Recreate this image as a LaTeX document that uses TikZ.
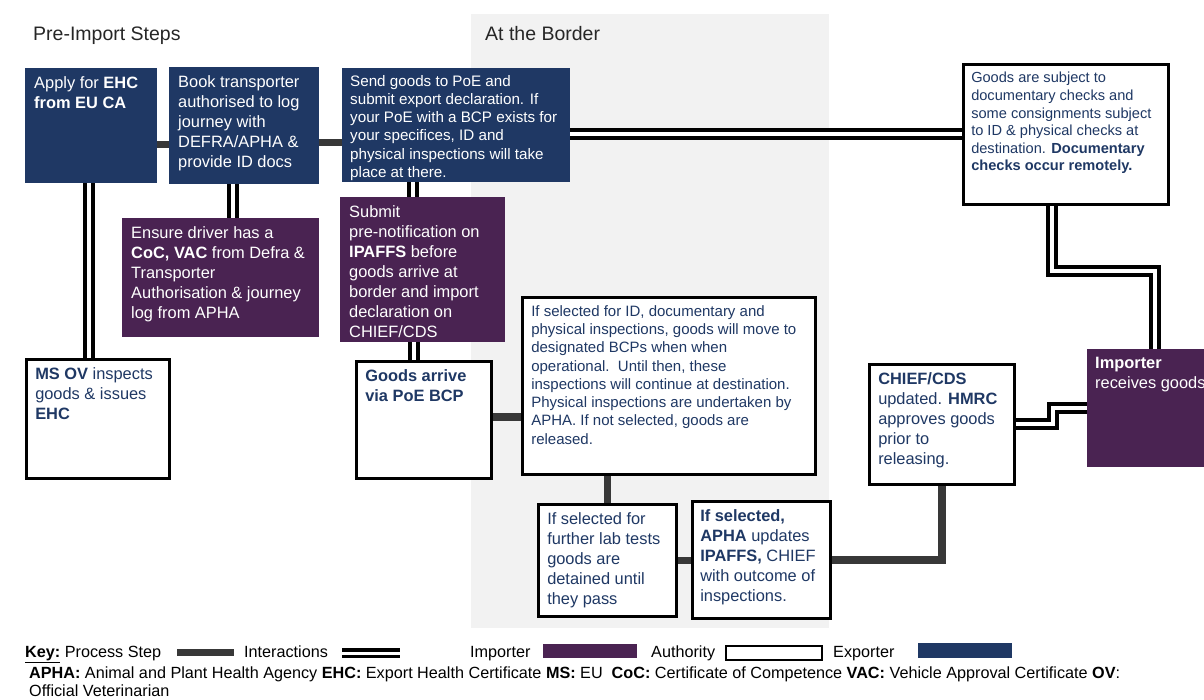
\documentclass[tikz,border=0pt]{standalone}
\usepackage{fontspec}
\setmainfont{Liberation Sans}
\usepackage{xcolor}
\usepackage{tikz}
\usetikzlibrary{backgrounds}
\definecolor{exportercolor}{HTML}{1F3864}
\definecolor{importercolor}{HTML}{4A2352}
\definecolor{inkcolor}{HTML}{1F3864}
\definecolor{stepcolor}{HTML}{383838}
\definecolor{bandcolor}{HTML}{F2F2F2}
\definecolor{headcolor}{HTML}{262626}
\newcommand{\cell}[3]{\parbox[c][#2][t]{#1}{\raggedright #3}}

\begin{document}
\begin{tikzpicture}[
    x=1pt, y=-1pt,
    every node/.style={inner xsep=9pt, inner ysep=8pt, anchor=north west},
    exporterbox/.style={fill=exportercolor, text=white,
                        font=\fontsize{16.4}{20}\selectfont},
    importerbox/.style={fill=importercolor, text=white,
                        font=\fontsize{16.4}{20}\selectfont},
    authoritybox/.style={draw=black, line width=2.5pt, fill=white, text=inkcolor,
                         font=\fontsize{16.4}{20}\selectfont},
    interact/.style={draw=black, line width=4pt, double=white, double distance=4pt},
    process/.style={draw=stepcolor, line width=7.5pt},
    heading/.style={anchor=base west, inner sep=0pt, text=headcolor,
                    font=\fontsize{19.5}{23}\selectfont},
    keytext/.style={anchor=base west, inner sep=0pt, text=black,
                    font=\fontsize{16.2}{19}\selectfont}
]
\path[use as bounding box, clip] (0,0) rectangle (1204,699);

\node[heading] (preimport) at (33,40) {Pre-Import Steps};
\node[heading] (border) at (485,40) {At the Border};

\node[exporterbox] (apply) at (25,68)
    {\cell{114pt}{99pt}{Apply for \textbf{EHC}\\ \textbf{from EU CA}}};
\node[exporterbox] (book) at (169,67)
    {\cell{132pt}{101pt}{Book transporter\\ authorised to log\\ journey with\\ DEFRA/APHA \&\\ provide ID docs}};
\node[exporterbox, inner xsep=8pt, inner ysep=7pt, font=\fontsize{15.2}{18.2}\selectfont] (send) at (342,68)
    {\cell{212pt}{100pt}{Send goods to PoE and\\ submit export declaration. If\\ your PoE with a BCP exists for\\ your specifices, ID and\\ physical inspections will take\\ place at there.}};
\node[importerbox] (ensure) at (122,218)
    {\cell{179pt}{103pt}{Ensure driver has a\\ \textbf{CoC, VAC} from Defra \&\\ Transporter\\ Authorisation \& journey\\ log from APHA}};
\node[importerbox] (submit) at (340,197)
    {\cell{147pt}{129pt}{Submit\\ pre-notification on\\ \textbf{IPAFFS} before\\ goods arrive at\\ border and import\\ declaration on\\ CHIEF/CDS}};
\node[authoritybox] (msov) at (25,358)
    {\cell{125pt}{103pt}{\textbf{MS OV} inspects\\ goods \& issues\\ \textbf{EHC}}};
\node[authoritybox] (arrive) at (355,360)
    {\cell{117pt}{101pt}{\textbf{Goods arrive}\\ \textbf{via PoE BCP}}};
\node[authoritybox, font=\fontsize{15}{18.3}\selectfont] (idcheck) at (521,296)
    {\cell{275pt}{161pt}{If selected for ID, documentary and\\ physical inspections, goods will move to\\ designated BCPs when when\\ operational.\ \ Until then, these\\ inspections will continue at destination.\\ Physical inspections are undertaken by\\ APHA. If not selected, goods are\\ released.}};
\node[authoritybox] (lab) at (537,503)
    {\cell{120pt}{96pt}{If selected for\\ further lab tests\\ goods are\\ detained until\\ they pass}};
\node[authoritybox, inner xsep=8pt] (apha) at (691,500)
    {\cell{122pt}{101pt}{\textbf{If selected,}\\ \textbf{APHA} updates\\ \textbf{IPAFFS,} CHIEF\\ with outcome of\\ inspections.}};
\node[authoritybox] (chief) at (868,363)
    {\cell{127pt}{104pt}{\textbf{CHIEF/CDS}\\ updated. \textbf{HMRC}\\ approves goods\\ prior to\\ releasing.}};
\node[authoritybox, inner xsep=8pt, font=\fontsize{14.6}{17.6}\selectfont] (docs) at (962,63)
    {\cell{189pt}{124pt}{Goods are subject to\\ documentary checks and\\ some consignments subject\\ to ID \& physical checks at\\ destination. \textbf{Documentary}\\ \textbf{checks occur remotely.}}};
\node[importerbox, inner xsep=8pt] (receive) at (1087,349)
    {\cell{114pt}{102pt}{\textbf{Importer}\\ receives goods}};

\begin{scope}[on background layer]
\fill[bandcolor] (471,14) rectangle (829,628);
\draw[process] ([yshift=-19pt]apply.east) -- ([yshift=-19pt]apply.east -| book.west);
\draw[process] ([yshift=-17pt]book.east) -- ([yshift=-17pt]book.east -| send.west);
\draw[process] ([yshift=3pt]arrive.east) -- ([yshift=3pt]arrive.east -| idcheck.west);
\draw[process] (lab.north) -- (lab.north |- idcheck.south);
\draw[process] (lab.east) -- (lab.east -| apha.west);
\draw[process] (apha.east) -| (chief.south);
\draw[interact] ([xshift=-2pt]apply.south) -- ([xshift=-2pt]apply.south |- msov.north);
\draw[interact] ([xshift=-11pt]book.south) -- ([xshift=-11pt]book.south |- ensure.north);
\draw[interact] ([xshift=-10pt]submit.north) -- ([xshift=-10pt]submit.north |- send.south);
\draw[interact] ([xshift=-10pt]arrive.north) -- ([xshift=-10pt]arrive.north |- submit.south);
\draw[interact] (docs.west) -- (docs.west -| send.east);
\draw[interact] ([xshift=-14pt]docs.south) -- ++(0,65) -| ([xshift=3pt]receive.north);
\draw[interact] (chief.east) -- ++(37,0) |- (receive.west);
\end{scope}

\node[keytext] (key) at (25,657) {\textbf{\underline{Key:}} Process Step};
\fill[stepcolor] (177,649) rectangle (234,656);
\node[keytext] (keyinteract) at (244,657) {Interactions};
\draw[interact, line width=3.5pt, double distance=3pt] (342,653) -- (400,653);
\node[keytext] (keyimporter) at (470,657) {Importer};
\fill[importercolor] (543,644) rectangle (637,658);
\node[keytext] (keyauthority) at (651,657) {Authority};
\draw[black, line width=1.8pt] (726,646) rectangle (822,660);
\node[keytext] (keyexporter) at (833,657) {Exporter};
\fill[exportercolor] (918,643) rectangle (1012,658);
\node[keytext] (glossary) at (29,678) {\textbf{APHA:} Animal and Plant Health Agency \textbf{EHC:} Export Health Certificate \textbf{MS:} EU\ \ \textbf{CoC:} Certificate of Competence \textbf{VAC:} Vehicle Approval Certificate \textbf{OV}:};
\node[keytext] (glossarytail) at (29,696) {Official Veterinarian};
\end{tikzpicture}
\end{document}
